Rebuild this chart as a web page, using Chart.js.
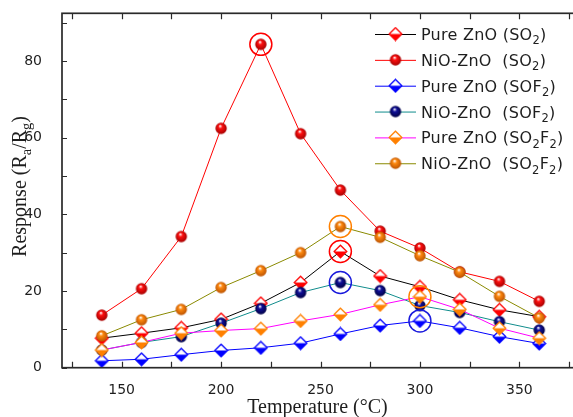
<!DOCTYPE html>
<html>
<head>
<meta charset="utf-8">
<script src="https://cdn.jsdelivr.net/npm/chart.js@4.4.0/dist/chart.umd.min.js"></script>
<style>
  html, body { margin: 0; padding: 0; overflow: hidden; background: #fff; }
  #wrap { width: 580px; height: 417px; }
</style>
</head>
<body>
<div id="wrap"><canvas id="chart" width="580" height="417"></canvas></div>
<script>
// Temperature (°C)
const temps = [140, 160, 180, 200, 220, 240, 260, 280, 300, 320, 340, 360];

// Response (Ra/Rg)
const pureSO2   = [7.7, 9.0, 10.4, 12.6, 16.8, 22.2, 30.3, 23.9, 21.1, 17.7, 15.1, 13.3];
const nioSO2    = [13.7, 20.6, 34.2, 62.4, 84.3, 61.0, 46.3, 35.6, 31.2, 25.0, 22.5, 17.3];
const pureSOF2  = [1.8, 2.2, 3.4, 4.5, 5.2, 6.4, 8.8, 11.0, 12.2, 10.4, 8.1, 6.3];
const nioSOF2   = [4.6, 6.6, 8.1, 11.6, 15.4, 19.6, 22.2, 20.1, 16.2, 14.4, 12.0, 9.8];
const pureSO2F2 = [4.6, 6.6, 9.0, 9.7, 10.2, 12.2, 13.9, 16.4, 18.5, 15.2, 10.3, 7.7];
const nioSO2F2  = [8.3, 12.5, 15.2, 20.9, 25.3, 30.0, 36.8, 34.0, 29.2, 24.9, 18.6, 13.0];

// circled maxima
const peakX = [220, 260, 260, 260, 300, 300];
const peakY = [84.3, 36.8, 30.3, 22.2, 18.5, 12.2];
const peakColors = ['#ff0000', '#ff8000', '#ff0000', '#1a1adc', '#ff8000', '#1a1adc'];

// legend labels ("_x" = subscript)
const labels = [
    'Pure ZnO (SO_2)',
    'NiO-ZnO  (SO_2)',
    'Pure ZnO (SOF_2)',
    'NiO-ZnO  (SOF_2)',
    'Pure ZnO (SO_2F_2)',
    'NiO-ZnO  (SO_2F_2)'
];

// marker images
function diamondIcon(color) {
    const c = document.createElement('canvas');
    c.width = 15; c.height = 15;
    const g = c.getContext('2d');
    const m = 7.5, h = 6.3;
    g.beginPath();
    g.moveTo(m, m - h); g.lineTo(m + h, m); g.lineTo(m, m + h); g.lineTo(m - h, m); g.closePath();
    g.fillStyle = '#fff';
    g.fill();
    g.save();
    g.clip();
    g.fillStyle = color;
    g.fillRect(0, m, 15, 8);
    g.restore();
    g.strokeStyle = color;
    g.lineWidth = 1.3;
    g.stroke();
    return c;
}

function sphereIcon(color, dark) {
    const c = document.createElement('canvas');
    c.width = 14; c.height = 14;
    const g = c.getContext('2d');
    const grad = g.createRadialGradient(6, 4.5, 0.3, 7, 7, 6);
    grad.addColorStop(0, '#ffffff');
    grad.addColorStop(0.3, color);
    grad.addColorStop(1, dark);
    g.beginPath();
    g.arc(7, 7, 5.7, 0, Math.PI * 2);
    g.fillStyle = grad;
    g.fill();
    return c;
}

const pts = arr => temps.map((t, i) => ({ x: t, y: arr[i] }));

// later series sit on top, like the original plot
function series(label, values, line, icon, order) {
    return {
        label: label,
        data: pts(values),
        showLine: true,
        borderColor: line,
        backgroundColor: line,
        borderWidth: 1,
        pointStyle: icon,
        pointRadius: 6,
        tension: 0,
        order: order
    };
}

const datasets = [
    series(labels[0], pureSO2, '#000000', diamondIcon('#ff0000'), 6),
    series(labels[1], nioSO2, '#ff0000', sphereIcon('#ff1010', '#a00000'), 5),
    series(labels[2], pureSOF2, '#0000ff', diamondIcon('#0000ff'), 4),
    series(labels[3], nioSOF2, '#108c8c', sphereIcon('#10109a', '#000040'), 3),
    series(labels[4], pureSO2F2, '#ff00ff', diamondIcon('#ff8000'), 2),
    series(labels[5], nioSO2F2, '#8a8a00', sphereIcon('#ff8a10', '#b85000'), 1)
];

datasets.push({
    label: 'peaks',
    data: peakX.map((x, i) => ({ x: x, y: peakY[i] })),
    showLine: false,
    pointStyle: 'circle',
    pointRadius: 11,
    pointBorderWidth: 1.5,
    pointBorderColor: peakColors,
    pointBackgroundColor: 'rgba(0,0,0,0)',
    order: 0
});

// text with subscripts
function richWidth(ctx, text, size, family) {
    let w = 0;
    const parts = text.split(/(_.)/).filter(p => p);
    parts.forEach(p => {
        if (p[0] === '_') { ctx.font = (size * 0.72) + 'px ' + family; w += ctx.measureText(p[1]).width; }
        else { ctx.font = size + 'px ' + family; w += ctx.measureText(p).width; }
    });
    return w;
}

function drawRich(ctx, text, x, y, size, family) {
    const parts = text.split(/(_.)/).filter(p => p);
    ctx.textAlign = 'left';
    ctx.textBaseline = 'alphabetic';
    parts.forEach(p => {
        if (p[0] === '_') {
            ctx.font = (size * 0.72) + 'px ' + family;
            ctx.fillText(p[1], x, y + size * 0.27);
            x += ctx.measureText(p[1]).width;
        } else {
            ctx.font = size + 'px ' + family;
            ctx.fillText(p, x, y);
            x += ctx.measureText(p).width;
        }
    });
}

const frameAndTicks = {
    id: 'frameAndTicks',
    afterDatasetsDraw(chart) {
        const { ctx, chartArea: a, scales } = chart;
        const xs = scales.x, ys = scales.y;
        ctx.save();
        ctx.strokeStyle = '#2a2a2a';
        ctx.lineWidth = 1.2;
        ctx.beginPath();
        for (let v = Math.ceil(xs.min / 25) * 25; v <= xs.max; v += 25) {
            const px = Math.round(xs.getPixelForValue(v)) + 0.5;
            ctx.moveTo(px, a.bottom); ctx.lineTo(px, a.bottom - 6);
            ctx.moveTo(px, a.top); ctx.lineTo(px, a.top + 6);
        }
        for (let v = 0; v <= ys.max; v += 10) {
            const py = Math.round(ys.getPixelForValue(v)) + 0.5;
            ctx.moveTo(a.left, py); ctx.lineTo(a.left + 5, py);
            ctx.moveTo(a.right, py); ctx.lineTo(a.right - 5, py);
        }
        ctx.stroke();
        ctx.lineWidth = 1.7;
        ctx.strokeRect(a.left, a.top, a.right - a.left, a.bottom - a.top);
        ctx.restore();
    },
    afterDraw(chart) {
        const { ctx, chartArea: a } = chart;
        ctx.save();
        ctx.fillStyle = '#1e1e1e';

        // axis titles
        const serif = '"Liberation Serif", "Times New Roman", serif';
        const xt = 'Temperature (°C)';
        const xw = richWidth(ctx, xt, 20, serif);
        drawRich(ctx, xt, (a.left + a.right) / 2 - 3 - xw / 2, a.bottom + 45.5, 20, serif);

        const yt = 'Response (R_a/R_g)';
        const yw = richWidth(ctx, yt, 20, serif);
        ctx.save();
        ctx.translate(26, (a.top + a.bottom) / 2 - 4);
        ctx.rotate(-Math.PI / 2);
        drawRich(ctx, yt, -yw / 2, 0, 20, serif);
        ctx.restore();

        // legend
        const sans = '"DejaVu Sans", sans-serif';
        chart.data.datasets.slice(0, 6).forEach((ds, i) => {
            const ry = 34 + i * 25.85;
            ctx.strokeStyle = ds.borderColor;
            ctx.lineWidth = 1;
            ctx.beginPath();
            ctx.moveTo(375, ry + 0.5); ctx.lineTo(416, ry + 0.5);
            ctx.stroke();
            const icon = ds.pointStyle;
            ctx.drawImage(icon, 395.5 - icon.width / 2, ry - icon.height / 2);
            ctx.fillStyle = '#1e1e1e';
            ctx.letterSpacing = '0.25px';
            drawRich(ctx, ds.label, 421, ry + 6, 16, sans);
            ctx.letterSpacing = '0px';
        });
        ctx.restore();
    }
};

const noPad = s => { s.paddingTop = 0; s.paddingBottom = 0; s.paddingLeft = 0; s.paddingRight = 0; };

new Chart(document.getElementById('chart'), {
    type: 'scatter',
    data: { datasets: datasets },
    options: {
        responsive: false,
        devicePixelRatio: 1,
        animation: false,
        layout: { autoPadding: false, padding: { top: 13.3, right: 1, left: 0, bottom: 0 } },
        plugins: { legend: { display: false }, tooltip: { enabled: false } },
        scales: {
            x: {
                type: 'linear',
                min: 120,
                max: 380,
                grid: { display: false },
                border: { display: false },
                ticks: {
                    stepSize: 25,
                    autoSkip: false,
                    maxRotation: 0,
                    padding: 6,
                    color: '#1e1e1e',
                    font: { family: '"DejaVu Sans", sans-serif', size: 14 },
                    callback: v => (v % 50 === 0 ? v : '')
                },
                afterFit: s => { s.height = 49.3; noPad(s); }
            },
            y: {
                min: 0,
                max: 92.4,
                grid: { display: false },
                border: { display: false },
                ticks: {
                    stepSize: 10,
                    autoSkip: false,
                    padding: 12,
                    color: '#1e1e1e',
                    font: { family: '"DejaVu Sans", sans-serif', size: 14 },
                    callback: v => (v % 20 === 0 ? v : '')
                },
                afterFit: s => { s.width = 62; noPad(s); }
            }
        }
    },
    plugins: [frameAndTicks]
});
</script>
</body>
</html>
